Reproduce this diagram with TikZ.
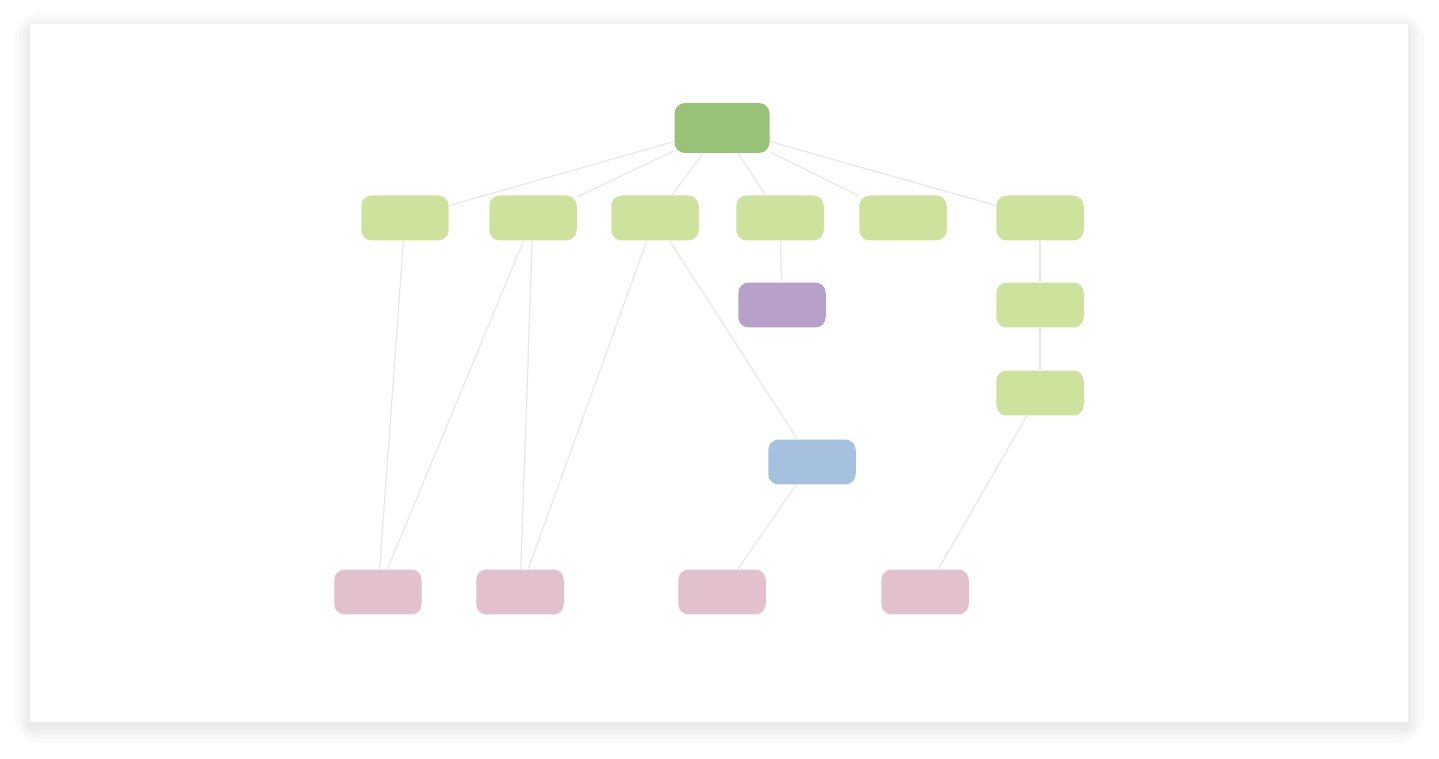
\documentclass[tikz,border=0pt]{standalone}
\usepackage{xcolor}
\definecolor{rootgreen}{HTML}{97C278}
\definecolor{leafgreen}{HTML}{CDE29C}
\definecolor{lavender}{HTML}{B7A0CA}
\definecolor{skyblue}{HTML}{A6C0E0}
\definecolor{rosepink}{HTML}{E2C0CE}
\definecolor{linkgray}{HTML}{E8E8E8}
\definecolor{shadeA}{HTML}{FAFAFA}
\definecolor{shadeB}{HTML}{F6F6F6}
\definecolor{shadeC}{HTML}{F1F1F1}
\definecolor{shadeD}{HTML}{ECECEC}
\usepackage{tikz}
\usetikzlibrary{arrows.meta,positioning,calc}
\tikzset{
  >={Stealth[length=2mm,width=1.6mm]},
  root/.style   ={draw=none,fill=rootgreen,rounded corners=6pt,
                  minimum width=19mm,minimum height=10mm},
  leaf/.style   ={draw=none,fill=leafgreen,rounded corners=6pt,
                  minimum width=17.5mm,minimum height=9mm},
  hub/.style    ={draw=none,fill=lavender,rounded corners=6pt,
                  minimum width=17.5mm,minimum height=9mm},
  core/.style   ={draw=none,fill=skyblue,rounded corners=6pt,
                  minimum width=17.5mm,minimum height=9mm},
  sink/.style   ={draw=none,fill=rosepink,rounded corners=6pt,
                  minimum width=17.5mm,minimum height=9mm},
  link/.style   ={draw=linkgray,line width=0.7pt},
}

\begin{document}
\begin{tikzpicture}[x=0.02cm,y=-0.02cm]
% page and card
\useasboundingbox (0,0) rectangle (1439,759);
\fill[white] (0,0) rectangle (1439,759);
\foreach \s/\c in {16/shadeA,11/shadeB,7/shadeC,3/shadeD}
  \fill[\c,rounded corners=\s pt] (30-\s,24-\s+5) rectangle (1408+\s,722+\s+5);
\fill[white] (30,24) rectangle (1408,722);
% top
\node[root] (top) at (722,128) {};
% second row
\node[leaf] (a1) at (405,218) {};
\node[leaf] (a2) at (533,218) {};
\node[leaf] (a3) at (655,218) {};
\node[leaf] (a4) at (780,218) {};
\node[leaf] (a5) at (903,218) {};
\node[leaf] (a6) at (1040,218) {};
% right column
\node[leaf] (b1) at (1040,305) {};
\node[leaf] (b2) at (1040,393) {};
% middle
\node[hub]  (mid) at (782,305) {};
\node[core] (blu) at (812,462) {};
% bottom row
\node[sink] (p1) at (378,592) {};
\node[sink] (p2) at (520,592) {};
\node[sink] (p3) at (722,592) {};
\node[sink] (p4) at (925,592) {};
% links
\foreach \n in {a1,a2,a3,a4,a5,a6}
  \draw[link] (top) -- (\n);
\draw[link] (a4) -- (mid);
\draw[link] (a6) -- (b1);
\draw[link] (b1) -- (b2);
\draw[link] (a1) -- (p1);
\draw[link] (a2) -- (p1);
\draw[link] (a2) -- (p2);
\draw[link] (a3) -- (blu);
\draw[link] (a3) -- (p2);
\draw[link] (blu) -- (p3);
\draw[link] (b2) -- (p4);
\end{tikzpicture}
\end{document}
